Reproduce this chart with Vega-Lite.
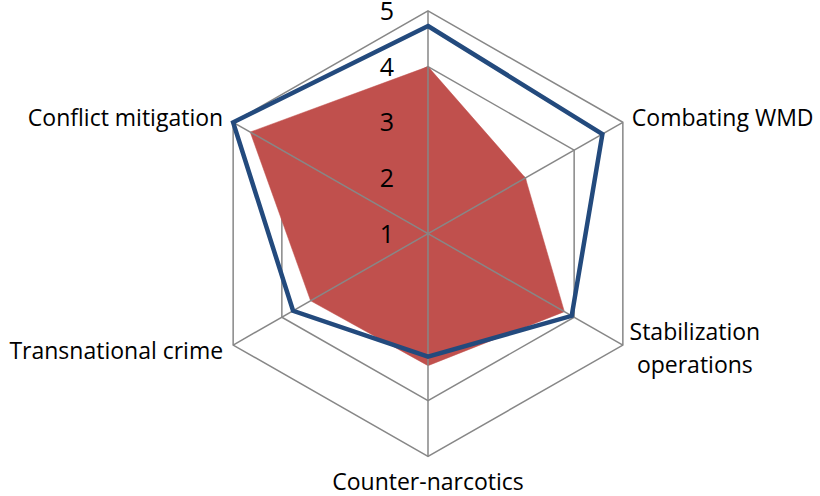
{
  "$schema": "https://vega.github.io/schema/vega-lite/v6.json",
  "width": 820,
  "height": 496,
  "autosize": {"type": "fit", "contains": "padding"},
  "padding": 0,
  "background": "white",
  "config": {"view": {"stroke": null}, "text": {"font": "Open Sans", "color": "#000000"}},
  "datasets": {
    "cats": [
      {"k": 0, "label": ""},
      {"k": 1, "label": "Combating WMD"},
      {"k": 2, "label": "Stabilization operations"},
      {"k": 3, "label": "Counter-narcotics"},
      {"k": 4, "label": "Transnational crime"},
      {"k": 5, "label": "Conflict mitigation"}
    ],
    "grid": [
      {"level": 2, "k": 0}, {"level": 2, "k": 1}, {"level": 2, "k": 2}, {"level": 2, "k": 3}, {"level": 2, "k": 4}, {"level": 2, "k": 5},
      {"level": 3, "k": 0}, {"level": 3, "k": 1}, {"level": 3, "k": 2}, {"level": 3, "k": 3}, {"level": 3, "k": 4}, {"level": 3, "k": 5},
      {"level": 4, "k": 0}, {"level": 4, "k": 1}, {"level": 4, "k": 2}, {"level": 4, "k": 3}, {"level": 4, "k": 4}, {"level": 4, "k": 5},
      {"level": 5, "k": 0}, {"level": 5, "k": 1}, {"level": 5, "k": 2}, {"level": 5, "k": 3}, {"level": 5, "k": 4}, {"level": 5, "k": 5}
    ],
    "ticks": [{"v": 1}, {"v": 2}, {"v": 3}, {"v": 4}, {"v": 5}],
    "series": [
      {"series": "red", "k": 0, "value": 4.0},
      {"series": "red", "k": 1, "value": 3.0},
      {"series": "red", "k": 2, "value": 3.8},
      {"series": "red", "k": 3, "value": 3.37},
      {"series": "red", "k": 4, "value": 3.41},
      {"series": "red", "k": 5, "value": 4.65},
      {"series": "blue", "k": 0, "value": 4.73},
      {"series": "blue", "k": 1, "value": 4.58},
      {"series": "blue", "k": 2, "value": 3.95},
      {"series": "blue", "k": 3, "value": 3.21},
      {"series": "blue", "k": 4, "value": 3.77},
      {"series": "blue", "k": 5, "value": 5.0}
    ]
  },
  "layer": [
    {
      "data": {"name": "grid"},
      "transform": [
        {"calculate": "(datum.level-1)*sin(datum.k*PI/3)", "as": "x"},
        {"calculate": "(datum.level-1)*cos(datum.k*PI/3)", "as": "y"}
      ],
      "mark": {"type": "line", "interpolate": "linear-closed", "stroke": "#878787", "strokeWidth": 1.5},
      "encoding": {
        "x": {"field": "x", "type": "quantitative", "scale": {"domain": [-7.6089, 6.9689], "nice": false, "zero": false}, "axis": null},
        "y": {"field": "y", "type": "quantitative", "scale": {"domain": [-4.7111, 4.1067], "nice": false, "zero": false}, "axis": null},
        "detail": {"field": "level", "type": "nominal"},
        "order": {"field": "k", "type": "quantitative"}
      }
    },
    {
      "data": {"name": "series"},
      "transform": [
        {"filter": "datum.series == 'red'"},
        {"calculate": "(datum.value-1)*sin(datum.k*PI/3)", "as": "x"},
        {"calculate": "(datum.value-1)*cos(datum.k*PI/3)", "as": "y"}
      ],
      "mark": {"type": "line", "interpolate": "linear-closed", "fill": "#C0504D", "stroke": "#C0504D", "strokeWidth": 0.5},
      "encoding": {
        "x": {"field": "x", "type": "quantitative", "scale": {"domain": [-7.6089, 6.9689], "nice": false, "zero": false}, "axis": null},
        "y": {"field": "y", "type": "quantitative", "scale": {"domain": [-4.7111, 4.1067], "nice": false, "zero": false}, "axis": null},
        "order": {"field": "k", "type": "quantitative"}
      }
    },
    {
      "data": {"name": "cats"},
      "transform": [
        {"calculate": "4*sin(datum.k*PI/3)", "as": "x"},
        {"calculate": "4*cos(datum.k*PI/3)", "as": "y"}
      ],
      "mark": {"type": "rule", "stroke": "#878787", "strokeWidth": 1.5},
      "encoding": {
        "x": {"field": "x", "type": "quantitative", "scale": {"domain": [-7.6089, 6.9689], "nice": false, "zero": false}, "axis": null},
        "y": {"field": "y", "type": "quantitative", "scale": {"domain": [-4.7111, 4.1067], "nice": false, "zero": false}, "axis": null},
        "x2": {"datum": 0},
        "y2": {"datum": 0}
      }
    },
    {
      "data": {"name": "series"},
      "transform": [
        {"filter": "datum.series == 'blue'"},
        {"calculate": "(datum.value-1)*sin(datum.k*PI/3)", "as": "x"},
        {"calculate": "(datum.value-1)*cos(datum.k*PI/3)", "as": "y"}
      ],
      "mark": {"type": "line", "interpolate": "linear-closed", "stroke": "#234A7D", "strokeWidth": 4.5},
      "encoding": {
        "x": {"field": "x", "type": "quantitative", "scale": {"domain": [-7.6089, 6.9689], "nice": false, "zero": false}, "axis": null},
        "y": {"field": "y", "type": "quantitative", "scale": {"domain": [-4.7111, 4.1067], "nice": false, "zero": false}, "axis": null},
        "order": {"field": "k", "type": "quantitative"}
      }
    },
    {
      "data": {"name": "ticks"},
      "transform": [{"calculate": "datum.v-1", "as": "y"}],
      "mark": {"type": "text", "fontSize": 25, "align": "center", "baseline": "middle", "dx": -41, "dy": 1},
      "encoding": {
        "x": {"datum": 0, "type": "quantitative"},
        "y": {"field": "y", "type": "quantitative"},
        "text": {"field": "v", "type": "nominal"}
      }
    },
    {
      "data": {"name": "cats"},
      "transform": [
        {"filter": "datum.k == 5"},
        {"calculate": "4*sin(datum.k*PI/3)", "as": "x"},
        {"calculate": "4*cos(datum.k*PI/3)", "as": "y"}
      ],
      "mark": {"type": "text", "fontSize": 23, "align": "right", "baseline": "middle", "dx": -10, "dy": -3},
      "encoding": {
        "x": {"field": "x", "type": "quantitative"},
        "y": {"field": "y", "type": "quantitative"},
        "text": {"field": "label", "type": "nominal"}
      }
    },
    {
      "data": {"name": "cats"},
      "transform": [
        {"filter": "datum.k == 1"},
        {"calculate": "4*sin(datum.k*PI/3)", "as": "x"},
        {"calculate": "4*cos(datum.k*PI/3)", "as": "y"}
      ],
      "mark": {"type": "text", "fontSize": 23, "align": "left", "baseline": "middle", "dx": 9, "dy": -3},
      "encoding": {
        "x": {"field": "x", "type": "quantitative"},
        "y": {"field": "y", "type": "quantitative"},
        "text": {"field": "label", "type": "nominal"}
      }
    },
    {
      "data": {"name": "cats"},
      "transform": [
        {"filter": "datum.k == 2"},
        {"calculate": "4*sin(datum.k*PI/3)", "as": "x"},
        {"calculate": "4*cos(datum.k*PI/3)", "as": "y"}
      ],
      "mark": {"type": "text", "fontSize": 23, "align": "center", "baseline": "middle", "dx": 72, "dy": -12, "lineBreak": " ", "lineHeight": 33},
      "encoding": {
        "x": {"field": "x", "type": "quantitative"},
        "y": {"field": "y", "type": "quantitative"},
        "text": {"field": "label", "type": "nominal"}
      }
    },
    {
      "data": {"name": "cats"},
      "transform": [
        {"filter": "datum.k == 3"},
        {"calculate": "4*sin(datum.k*PI/3)", "as": "x"},
        {"calculate": "4*cos(datum.k*PI/3)", "as": "y"}
      ],
      "mark": {"type": "text", "fontSize": 23, "align": "center", "baseline": "middle", "dy": 27},
      "encoding": {
        "x": {"field": "x", "type": "quantitative"},
        "y": {"field": "y", "type": "quantitative"},
        "text": {"field": "label", "type": "nominal"}
      }
    },
    {
      "data": {"name": "cats"},
      "transform": [
        {"filter": "datum.k == 4"},
        {"calculate": "4*sin(datum.k*PI/3)", "as": "x"},
        {"calculate": "4*cos(datum.k*PI/3)", "as": "y"}
      ],
      "mark": {"type": "text", "fontSize": 23, "align": "right", "baseline": "middle", "dx": -10, "dy": 7},
      "encoding": {
        "x": {"field": "x", "type": "quantitative"},
        "y": {"field": "y", "type": "quantitative"},
        "text": {"field": "label", "type": "nominal"}
      }
    }
  ]
}
